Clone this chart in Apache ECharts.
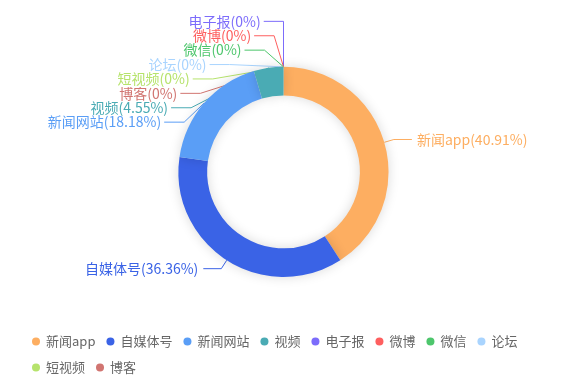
<!DOCTYPE html>
<html><head><meta charset="utf-8">
<script src="https://cdn.jsdelivr.net/npm/echarts@6/dist/echarts.min.js"></script>
<style>html,body{margin:0;padding:0;background:#fff}#c{width:567px;height:382px}</style>
</head><body><div id="c"></div>
<script>
const categories = ['新闻app','自媒体号','新闻网站','视频','电子报','微博','微信','论坛','短视频','博客'];
const values = [9, 8, 4, 1, 0, 0, 0, 0, 0, 0];
const colors = ['#fdae61','#3a63e6','#5a9ef6','#4aabb4','#7c6cfb','#fe5f5f','#4dc66c','#a9d4fe','#b6e36c','#d17571'];

// order of labels in the upper-left quadrant (by slice mid angle, clockwise from top)
const total = values.reduce((a, b) => a + b, 0);
let acc = 0;
const midAngles = values.map(v => { const m = (acc + v / 2) / total * 2 * Math.PI; acc += v; return m; });
const upperLeft = categories.map((c, i) => i)
  .filter(i => midAngles[i] >= Math.PI * 1.5)
  .sort((a, b) => (Math.cos(midAngles[b]) - Math.cos(midAngles[a])) || (a - b));
const rankOf = {};
upperLeft.forEach((idx, k) => { rankOf[idx] = k; });

const chart = echarts.init(document.getElementById('c'));
const LINE_LEN = 10;
const LIFT = 35.5;
const SPACING = 14.4;
chart.setOption({
  color: colors,
  textStyle: {fontFamily: 'Noto Sans CJK SC, sans-serif'},
  legend: {
    bottom: 7, left: 32, right: 20, padding: 0,
    icon: 'circle', itemWidth: 10, itemHeight: 8, itemGap: 11,
    textStyle: {color: '#666', fontSize: 13, lineHeight: 15},
    data: categories
  },
  series: [{
    type: 'pie',
    center: ['50%', '45%'],
    radius: ['40%', '55%'],
    avoidLabelOverlap: true,
    itemStyle: {shadowBlur: 12, shadowColor: 'rgba(0,0,0,0.15)'},
    label: {
      formatter: '{b}({d}%)',
      color: 'inherit',
      fontSize: 14
    },
    labelLine: {length: LINE_LEN, length2: 18},
    labelLayout: function (p) {
      const rank = rankOf[p.dataIndex];
      const pts = p.labelLinePoints;
      if (rank === undefined || !pts) return;
      const w = chart.getWidth(), h = chart.getHeight();
      const cx = w * 0.5, cy = h * 0.45;
      const r = Math.min(w, h) / 2 * 0.55;
      const p0 = pts[0];
      const mid = cy - r - LINE_LEN - LIFT + rank * SPACING;
      const dy = Math.abs(mid - cy);
      const R = r * 1.257;
      let dx;
      if (dy < R * 0.9) dx = Math.sqrt(R * R - dy * dy);
      else dx = Math.max(20, 23 + 0.667 * (r * 1.43 - dy));
      const end = cx - dx;
      const ex = Math.min(end + 23, p0[0]);
      return {
        x: end, y: mid, align: 'right', verticalAlign: 'middle',
        labelLinePoints: [p0, [ex, mid], [end + 3, mid]]
      };
    },
    data: categories.map((c, i) => ({name: c, value: values[i]}))
  }]
});
</script></body></html>
